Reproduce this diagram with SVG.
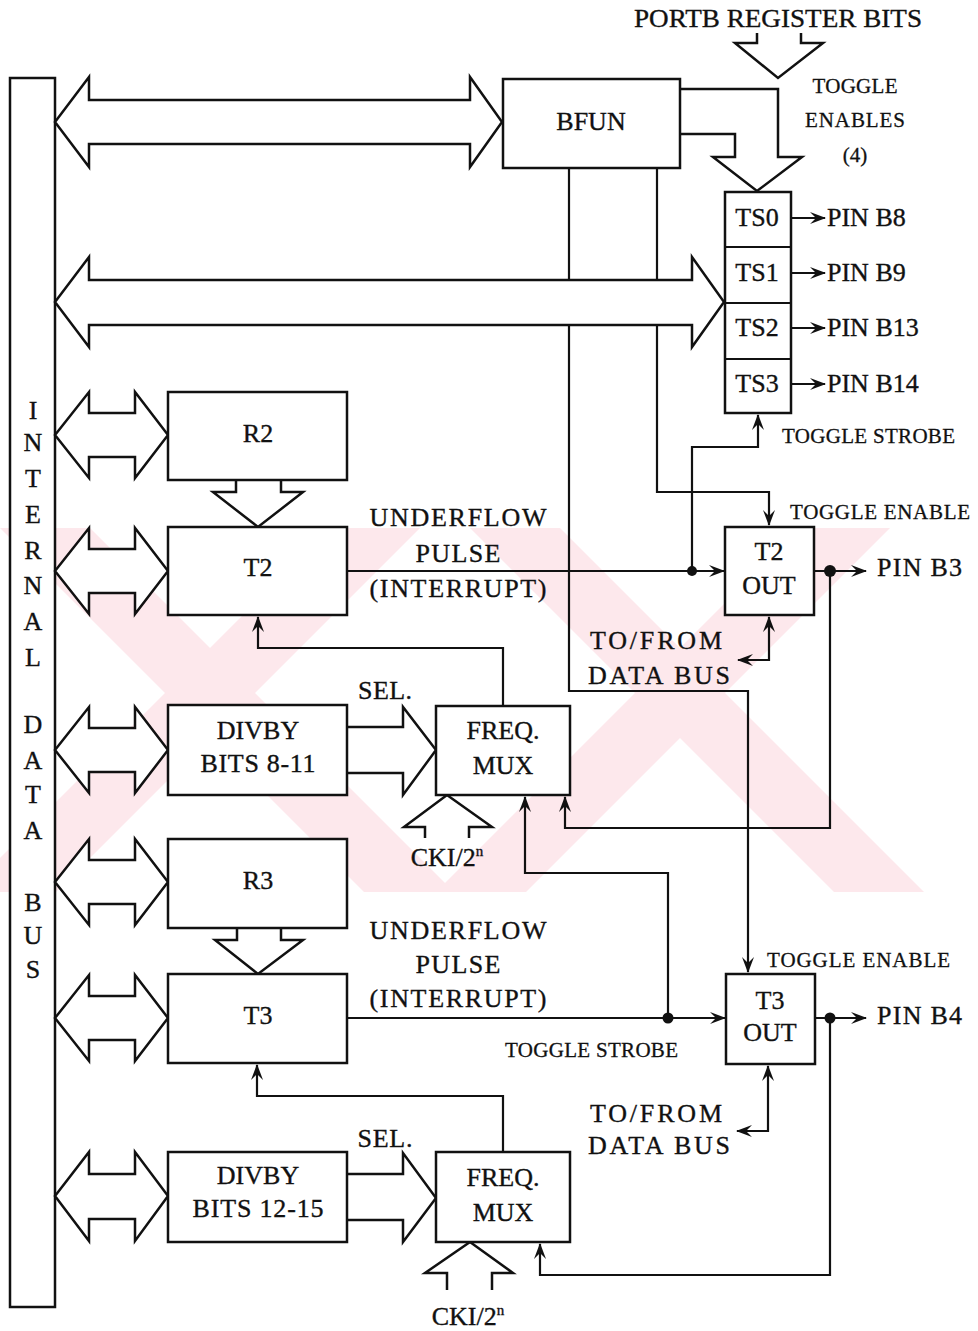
<svg xmlns="http://www.w3.org/2000/svg" width="978" height="1331" viewBox="0 0 978 1331">
<style>
.box{fill:#fff;stroke:#111;stroke-width:2.5}
.fat{fill:#fff;stroke:#111;stroke-width:2.5;stroke-linejoin:miter}
.ln{fill:none;stroke:#111;stroke-width:2.2}
.t{font-family:"Liberation Serif","Times New Roman",serif;font-size:26px;fill:#111;stroke:#111;stroke-width:0.35;text-anchor:middle}
.s{font-family:"Liberation Serif","Times New Roman",serif;font-size:21px;fill:#111;stroke:#111;stroke-width:0.3;text-anchor:middle}
.l{text-anchor:start}
.wm{fill:#fde8ec}
</style>
<defs>
<marker id="a" viewBox="0 0 16 12" refX="15" refY="6" markerWidth="16" markerHeight="12" markerUnits="userSpaceOnUse" orient="auto-start-reverse">
<path d="M0,0 L16,6 L0,12 L6,6 z" fill="#111"/>
</marker>
<clipPath id="band"><rect x="0" y="528" width="978" height="364"/></clipPath>
</defs>
<rect width="978" height="1331" fill="#fff"/>
<g id="watermark" clip-path="url(#band)">
<polygon class="wm" points="0,528 90,528 454,892 364,892"/>
<polygon class="wm" points="330,528 420,528 56,892 0,892 0,858"/>
<polygon class="wm" points="470,528 560,528 924,892 834,892"/>
<polygon class="wm" points="800,528 890,528 526,892 436,892"/>
</g>
<g id="bus">
<rect class="box" x="10" y="78" width="45" height="1229"/>
<text class="t" x="33" y="419">I</text>
<text class="t" x="33" y="451">N</text>
<text class="t" x="33" y="487">T</text>
<text class="t" x="33" y="523">E</text>
<text class="t" x="33" y="559">R</text>
<text class="t" x="33" y="594">N</text>
<text class="t" x="33" y="630">A</text>
<text class="t" x="33" y="666">L</text>
<text class="t" x="33" y="733">D</text>
<text class="t" x="33" y="769">A</text>
<text class="t" x="33" y="803">T</text>
<text class="t" x="33" y="839">A</text>
<text class="t" x="33" y="911">B</text>
<text class="t" x="33" y="944">U</text>
<text class="t" x="33" y="978">S</text>
</g>
<g id="connectors">
<polyline class="ln" points="569,168 569,691 748,691 748,972" marker-end="url(#a)"/>
<polyline class="ln" points="657,168 657,492 769,492 769,525" marker-end="url(#a)"/>
<polyline class="ln" points="692,571 692,447 758,447 758,415" marker-end="url(#a)"/>
<line class="ln" x1="347" y1="571" x2="724" y2="571" marker-end="url(#a)"/>
<line class="ln" x1="814" y1="571" x2="866" y2="571" marker-end="url(#a)"/>
<polyline class="ln" points="830,571 830,828 565,828 565,797" marker-end="url(#a)"/>
<polyline class="ln" points="738,660 769,660 769,617" marker-start="url(#a)" marker-end="url(#a)"/>
<polyline class="ln" points="503,706 503,648 258,648 258,617" marker-end="url(#a)"/>
<polyline class="ln" points="668,1018 668,873 525,873 525,797" marker-end="url(#a)"/>
<line class="ln" x1="347" y1="1018" x2="725" y2="1018" marker-end="url(#a)"/>
<line class="ln" x1="815" y1="1018" x2="866" y2="1018" marker-end="url(#a)"/>
<polyline class="ln" points="830,1018 830,1275 540,1275 540,1244" marker-end="url(#a)"/>
<polyline class="ln" points="737,1131 768,1131 768,1066" marker-start="url(#a)" marker-end="url(#a)"/>
<polyline class="ln" points="503,1152 503,1096 257,1096 257,1065" marker-end="url(#a)"/>
<line class="ln" x1="791" y1="218" x2="825" y2="218" marker-end="url(#a)"/>
<line class="ln" x1="791" y1="273" x2="825" y2="273" marker-end="url(#a)"/>
<line class="ln" x1="791" y1="328" x2="825" y2="328" marker-end="url(#a)"/>
<line class="ln" x1="791" y1="384" x2="825" y2="384" marker-end="url(#a)"/>
<circle cx="692" cy="571" r="5" fill="#111"/>
<circle cx="830" cy="571" r="6" fill="#111"/>
<circle cx="668" cy="1018" r="5.5" fill="#111"/>
<circle cx="830" cy="1018" r="5.5" fill="#111"/>
<polygon class="fat" points="55,122 89,77 89,100 470,100 470,77 502,122 470,167 470,144 89,144 89,167"/>
<polygon class="fat" points="55,302 89,257 89,280 692,280 692,257 724,302 692,347 692,325 89,325 89,347"/>
<polygon class="fat" points="55,435 89,392 89,413 135,413 135,392 168,435 135,478 135,457 89,457 89,478"/>
<polygon class="fat" points="55,571 89,528 89,549 135,549 135,528 168,571 135,614 135,593 89,593 89,614"/>
<polygon class="fat" points="55,750 89,707 89,728 135,728 135,707 168,750 135,793 135,772 89,772 89,793"/>
<polygon class="fat" points="55,882 89,839 89,860 135,860 135,839 168,882 135,925 135,904 89,904 89,925"/>
<polygon class="fat" points="55,1018 89,975 89,996 135,996 135,975 168,1018 135,1061 135,1040 89,1040 89,1061"/>
<polygon class="fat" points="55,1196 89,1152 89,1174 135,1174 135,1152 168,1196 135,1241 135,1219 89,1219 89,1241"/>
<polyline class="fat" points="236,480 236,492 213,492 258,527 303,492 281,492 281,480"/>
<polyline class="fat" points="237,928 237,940 215,940 258,974 303,940 281,940 281,928"/>
<polyline class="fat" points="347,727 403,727 403,707 436,750 403,795 403,773 347,773"/>
<polyline class="fat" points="347,1174 403,1174 403,1153 436,1198 403,1242 403,1220 347,1220"/>
<polyline class="fat" points="425,838 425,827 404,827 447,795 492,827 469,827 469,838"/>
<polyline class="fat" points="447,1290 447,1273 425,1273 470,1242 513,1273 492,1273 492,1290"/>
<polyline class="fat" points="757,33 757,43 735,43 778,78 823,43 801,43 801,33"/>
<polyline class="fat" points="680,89 778,89 778,157 802,157 757,191 713,157 735,157 735,134 680,134"/>
</g>
<g id="labels">
<text class="t" x="778" y="27" font-size="27" textLength="288" lengthAdjust="spacingAndGlyphs">PORTB REGISTER BITS</text>
<text class="s" x="855" y="93" textLength="85">TOGGLE</text>
<text class="s" x="855" y="127" textLength="100">ENABLES</text>
<text class="s" x="855" y="162">(4)</text>
<text class="s l" x="782" y="443" textLength="173">TOGGLE STROBE</text>
<text class="s l" x="790" y="519" textLength="180">TOGGLE ENABLE</text>
<text class="t" x="458" y="526" textLength="177">UNDERFLOW</text>
<text class="t" x="458" y="562" textLength="85">PULSE</text>
<text class="t" x="458" y="597" textLength="177">(INTERRUPT)</text>
<text class="t l" x="877" y="576" textLength="85">PIN B3</text>
<text class="t" x="656" y="649" textLength="132">TO/FROM</text>
<text class="t" x="659" y="684" textLength="142">DATA BUS</text>
<text class="t" x="385" y="699" textLength="54">SEL.</text>
<text class="t" x="447" y="866" font-size="24">CKI/2<tspan font-size="15" dy="-10">n</tspan></text>
<text class="t" x="458" y="939" textLength="177">UNDERFLOW</text>
<text class="t" x="458" y="973" textLength="85">PULSE</text>
<text class="t" x="458" y="1007" textLength="177">(INTERRUPT)</text>
<text class="s l" x="767" y="967" textLength="183">TOGGLE ENABLE</text>
<text class="s l" x="505" y="1057" textLength="173">TOGGLE STROBE</text>
<text class="t l" x="877" y="1024" textLength="85">PIN B4</text>
<text class="t" x="656" y="1122" textLength="132">TO/FROM</text>
<text class="t" x="659" y="1154" textLength="142">DATA BUS</text>
<text class="t" x="385" y="1147" textLength="55">SEL.</text>
<text class="t" x="468" y="1325" font-size="24">CKI/2<tspan font-size="15" dy="-10">n</tspan></text>
</g>
<g id="bfun"><rect class="box" x="503" y="79" width="177" height="89"/><text class="t" x="591" y="130">BFUN</text></g>
<g id="ts">
<rect class="box" x="725" y="192" width="66" height="221"/>
<line class="ln" x1="725" y1="247" x2="791" y2="247"/>
<line class="ln" x1="725" y1="303" x2="791" y2="303"/>
<line class="ln" x1="725" y1="359" x2="791" y2="359"/>
<text class="t" x="757" y="226">TS0</text>
<text class="t" x="757" y="281">TS1</text>
<text class="t" x="757" y="336">TS2</text>
<text class="t" x="757" y="392">TS3</text>
<text class="t l" x="827" y="226">PIN B8</text>
<text class="t l" x="827" y="281">PIN B9</text>
<text class="t l" x="827" y="336">PIN B13</text>
<text class="t l" x="827" y="392">PIN B14</text>
</g>
<g id="r2"><rect class="box" x="168" y="392" width="179" height="88"/><text class="t" x="258" y="442">R2</text></g>
<g id="t2"><rect class="box" x="168" y="527" width="179" height="88"/><text class="t" x="258" y="576">T2</text></g>
<g id="t2out"><rect class="box" x="725" y="527" width="89" height="88"/><text class="t" x="769" y="560">T2</text><text class="t" x="769" y="594">OUT</text></g>
<g id="divby1"><rect class="box" x="168" y="705" width="179" height="90"/><text class="t" x="258" y="739">DIVBY</text><text class="t" x="258" y="772" textLength="115">BITS 8-11</text></g>
<g id="mux1"><rect class="box" x="436" y="706" width="134" height="89"/><text class="t" x="503" y="739">FREQ.</text><text class="t" x="503" y="774">MUX</text></g>
<g id="r3"><rect class="box" x="168" y="839" width="179" height="89"/><text class="t" x="258" y="889">R3</text></g>
<g id="t3"><rect class="box" x="168" y="974" width="179" height="89"/><text class="t" x="258" y="1024">T3</text></g>
<g id="t3out"><rect class="box" x="726" y="974" width="89" height="90"/><text class="t" x="770" y="1009">T3</text><text class="t" x="770" y="1041">OUT</text></g>
<g id="divby2"><rect class="box" x="168" y="1152" width="179" height="90"/><text class="t" x="258" y="1184">DIVBY</text><text class="t" x="258" y="1217" textLength="131">BITS 12-15</text></g>
<g id="mux2"><rect class="box" x="436" y="1152" width="134" height="90"/><text class="t" x="503" y="1186">FREQ.</text><text class="t" x="503" y="1221">MUX</text></g>
</svg>
